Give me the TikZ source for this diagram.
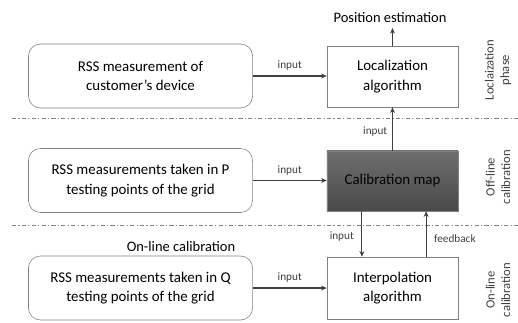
\documentclass[tikz,border=0pt]{standalone}
\usepackage{fontspec}
\setmainfont{Carlito}
\usetikzlibrary{positioning}
\usetikzlibrary{arrows.meta}

\definecolor{boxline}{HTML}{808080}
\definecolor{arrowline}{HTML}{404040}
\definecolor{mapfilltop}{HTML}{6E6E6E}
\definecolor{mapfillbot}{HTML}{4A4A4A}

\tikzset{
    measbox/.style={draw=boxline, rounded corners=0.3cm, minimum width=5.6cm,
        minimum height=1.6cm, align=center, font=\fontsize{10.6}{14}\selectfont},
    algbox/.style={draw=boxline, minimum width=3.275cm, align=center,
        font=\fontsize{10.6}{14}\selectfont},
    arr/.style={arrowline, thick, -{Stealth[length=4pt,width=3.5pt]}},
    arrlabel/.style={font=\fontsize{8}{9}\selectfont, text=arrowline},
    phaselabel/.style={rotate=90, align=center, text=arrowline,
        font=\fontsize{9}{11}\selectfont},
    phaseline/.style={boxline, dash pattern=on 3pt off 1.6pt on 0.8pt off 1.6pt}
}

\begin{document}
\begin{tikzpicture}[x=0.025cm, y=-0.025cm]
    \useasboundingbox (0,0) rectangle (518,322);

    %%% Phase boundaries %%%
    \draw[phaseline] (12,118) -- (518,118);
    \draw[phaseline] (12,225) -- (518,225);

    %%% Localization phase %%%
    \node[measbox] (meas1) at (140.5,76) {RSS measurement of\\customer's device};
    \node[algbox, minimum height=1.525cm] (loc) at (392.5,76.5) {Localization\\algorithm};
    \node[font=\fontsize{10.3}{12}\selectfont] (pos) at (390,18) {Position estimation};

    %%% Off-line calibration %%%
    \node[measbox] (meas2) at (140.5,180.5) {RSS measurements taken in P\\testing points of the grid};
    \node[algbox, minimum height=1.5cm, top color=mapfilltop, bottom color=mapfillbot] (calib) at (392.5,181) {Calibration map};

    %%% On-line calibration %%%
    \node[font=\fontsize{10.3}{12}\selectfont] (online) at (181,247) {On-line calibration};
    \node[measbox] (meas3) at (140.5,288) {RSS measurements taken in Q\\testing points of the grid};
    \node[algbox, minimum height=1.55cm] (interp) at (392.5,288) {Interpolation\\algorithm};

    %%% Arrows %%%
    \draw[arr] (meas1.east) -- (meas1.east -| loc.west) node[arrlabel, midway, above] {input};
    \draw[arr] (loc.north) -- (loc.north |- pos.south);
    \draw[arr] (meas2.east) -- (meas2.east -| calib.west) node[arrlabel, midway, above] {input};
    \draw[arr] (calib.north) -- (loc.south) node[arrlabel, pos=0.45, left] {input};
    \draw[arr] (meas3.east) -- (meas3.east -| interp.west) node[arrlabel, midway, above] {input};
    \draw[arr] ([xshift=-0.765cm]calib.south) -- ([xshift=-0.765cm]interp.north) node[arrlabel, pos=0.55, left=2pt] {input};
    \draw[arr] ([xshift=0.84cm]interp.north) -- ([xshift=0.84cm]calib.south) node[arrlabel, pos=0.4, right=2pt] {feedback};

    %%% Phase names %%%
    \node[phaselabel] (ph1) at (498,70) {Loclaization\\phase};
    \node[phaselabel] (ph2) at (498,177) {Off-line\\calibration};
    \node[phaselabel] (ph3) at (498,290) {On-line\\calibration};
\end{tikzpicture}
\end{document}
